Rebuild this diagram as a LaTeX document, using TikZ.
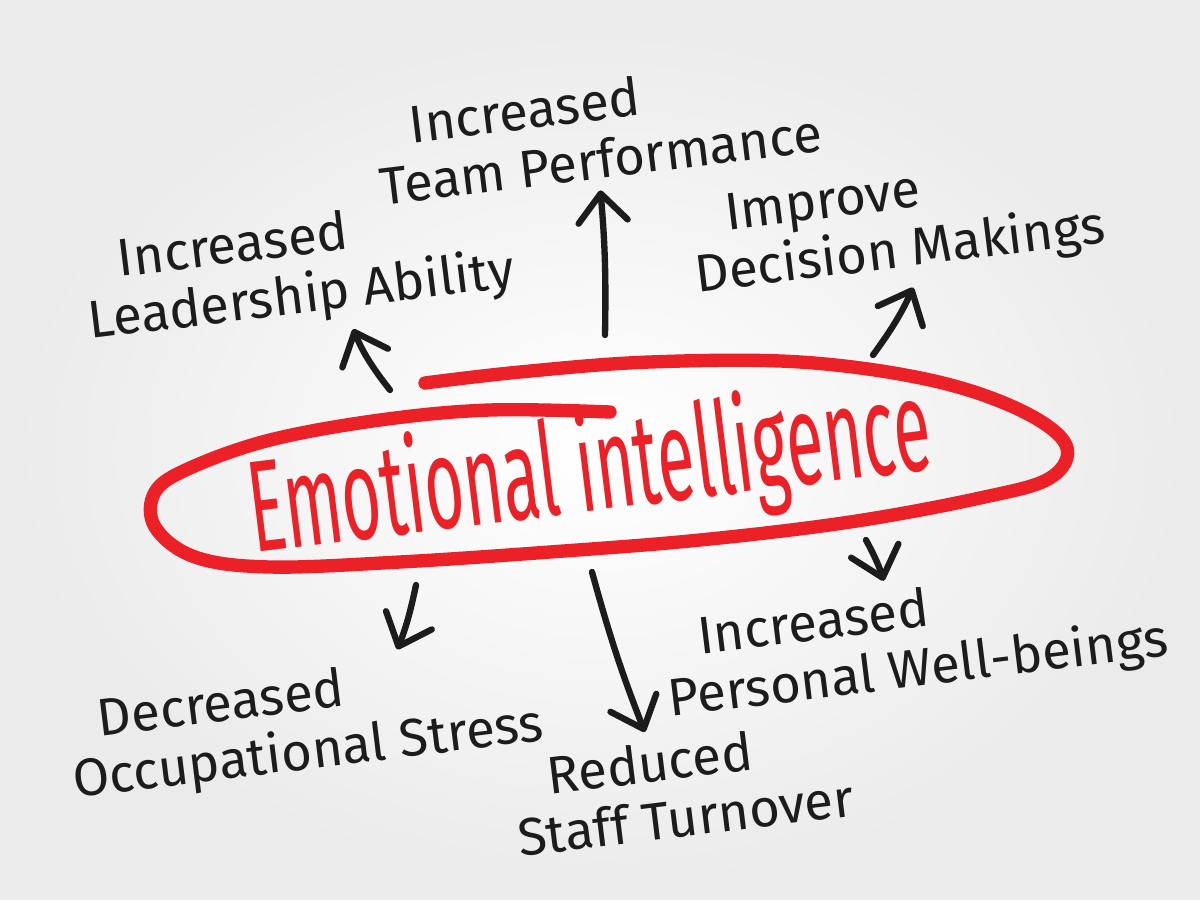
\documentclass[tikz,border=0pt]{standalone}
\usepackage{fontspec}
\setmainfont{Fira Sans}
\usetikzlibrary{arrows.meta,calc,positioning}
\definecolor{MarkerRed}{RGB}{236,32,39}
\definecolor{InkBlack}{RGB}{28,28,28}

\begin{document}
\begin{tikzpicture}[x=0.01cm, y=-0.01cm,
	note/.style={align=left, rotate=7, text=InkBlack, inner sep=1pt, font=\fontsize{15}{16.5}\selectfont},
	ink/.style={draw=InkBlack, line width=1.8pt, line cap=round, shorten >=2pt, -{Straight Barb[length=8pt,width=14pt,round]}},
	marker/.style={draw=MarkerRed, line width=3.8pt, line cap=round, line join=round}]
			\shade[inner color=white, outer color=gray!16] (0,0) rectangle (1200,900);
			\useasboundingbox (0,0) rectangle (1200,900);
			\draw[marker] plot[smooth, tension=0.6] coordinates {(425,383) (520,372) (650,362) (800,362) (930,380) (1020,410) (1066,445) (1050,478) (980,498) (850,522) (700,540) (550,552) (400,562) (270,567) (195,557) (155,527) (155,492) (190,468) (270,440) (380,420) (490,410) (610,412)};
			\node[rotate=7, xscale=0.52, text=MarkerRed, inner sep=0pt, font=\fontsize{37}{37}\selectfont] (ei) at (590,474) {Emotional intelligence};
			\node[note] (team) at (597,130) {\hspace*{0.7em}Increased\\Team Performance};
			\node[note] (lead) at (298,270) {\hspace*{0.7em}Increased\\Leadership Ability};
			\node[note] (decide) at (897,226) {\hspace*{0.7em}Improve\\Decision Makings};
			\node[note] (wellb) at (915,643) {\hspace*{0.7em}Increased\\Personal Well-beings};
			\node[note] (stress) at (305,726) {\hspace*{0.6em}Decreased\\Occupational Stress};
			\node[note] (turnover) at (682,788) {\hspace*{0.7em}Reduced\\Staff Turnover};
			\coordinate (tlead) at (390,390);
			\coordinate (tteam) at (605,335);
			\coordinate (tdecide) at (873,355);
			\coordinate (twellb) at (866,540);
			\coordinate (tstress) at (416,585);
			\coordinate (tturnover) at (592,572);
			\draw[ink] (tlead) to[bend left=8] (lead.-52);
			\draw[ink] (tteam) to[bend right=3] (team.-94);
			\draw[ink] (tdecide) to[bend right=6] (decide.-78);
			\draw[ink] (twellb) to[bend left=6] (wellb.111);
			\draw[ink] (tstress) to[bend left=5] (stress.31);
			\draw[ink] (tturnover) to[bend right=3] (turnover.118);
		\end{tikzpicture}
\end{document}
